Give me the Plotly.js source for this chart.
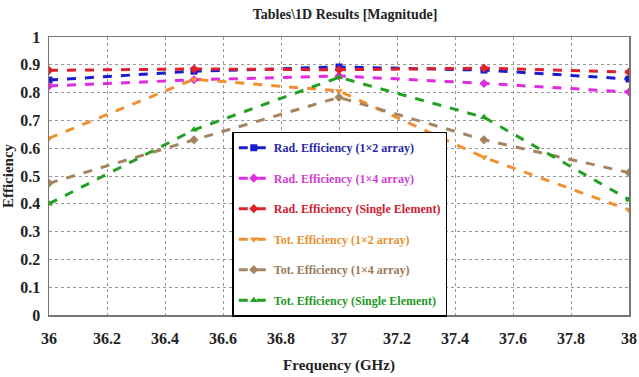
<!DOCTYPE html>
<html><head><meta charset="utf-8">
<script src="https://cdn.plot.ly/plotly-3.0.1.min.js"></script>
<style>body{margin:0;padding:0;background:#fff}#chart{width:639px;height:377px}</style>
</head><body><div id="chart"></div>
<script>
const freq = [36, 36.5, 37, 37.5, 38];
const radEff1x2 = [0.845, 0.877, 0.892, 0.881, 0.849];
const radEff1x4 = [0.824, 0.846, 0.860, 0.833, 0.802];
const radEffSingle = [0.880, 0.885, 0.882, 0.888, 0.874];
const totEff1x2 = [0.636, 0.848, 0.806, 0.567, 0.378];
const totEff1x4 = [0.474, 0.630, 0.783, 0.630, 0.512];
const totEffSingle = [0.400, 0.666, 0.855, 0.711, 0.415];
const xTicks = [36, 36.2, 36.4, 36.6, 36.8, 37, 37.2, 37.4, 37.6, 37.8, 38];
const xTickText = ['36','36.2','36.4','36.6','36.8','37','37.2','37.4','37.6','37.8','38'];
const yTicks = [0, 0.1, 0.2, 0.3, 0.4, 0.5, 0.6, 0.7, 0.8, 0.9, 1];
const yTickText = ['0','0.1','0.2','0.3','0.4','0.5','0.6','0.7','0.8','0.9','1'];

const names = ['Rad. Efficiency (1×2 array)','Rad. Efficiency (1×4 array)','Rad. Efficiency (Single Element)','Tot. Efficiency (1×2 array)','Tot. Efficiency (1×4 array)','Tot. Efficiency (Single Element)'];
const series = [radEff1x2, radEff1x4, radEffSingle, totEff1x2, totEff1x4, totEffSingle];
const lineColors = ['#1c1ccf','#e02ce0','#e0202c','#f29030','#a5845f','#22a022'];
const textColors = ['#2626a8','#d040d0','#d02030','#e8902e','#9a7a58','#1f9a1f'];
const symbols = ['square','diamond','diamond','triangle-down','diamond','triangle-up'];

const traces = series.map((s,i)=>({
  x: freq, y: s, type:'scatter', mode:'lines+markers',
  name: '<b><span style="color:'+textColors[i]+'">'+names[i]+'</span></b>',
  legendgroup: 'g'+i,
  line:{color:lineColors[i], width:3, dash:'dash'},
  marker:{color:lineColors[i], symbol:symbols[i], size:7}
}));

const fam = 'Liberation Serif';
const layout = {
  width:639, height:377,
  margin:{l:49, r:10, t:37, b:62},
  paper_bgcolor:'#fff', plot_bgcolor:'#fff',
  font: {family:fam, color:'#222'},
  title:{text:'<b>Tables\\1D Results [Magnitude]</b>', font:{family:fam, size:14, color:'#222'}, x:0.54, xanchor:'center', y:0.975, yanchor:'top'},
  xaxis:{
    range:[36,38], tickmode:'array', tickvals:xTicks, ticktext:xTickText.map(t=>'<b>'+t+'</b>'),
    showline:true, linecolor:'#777', linewidth:1.5, mirror:true,
    showgrid:true, gridcolor:'#999', griddash:'dot', gridwidth:1,
    zeroline:false, ticks:'', ticklabelstandoff:8, ticklabeloverflow:'allow',
    tickfont:{family:fam, size:16, color:'#222'},
    title:{text:'<b>Frequency (GHz)</b>', font:{family:fam, size:15, color:'#222'}, standoff:14}
  },
  yaxis:{
    range:[0,1], tickmode:'array', tickvals:yTicks, ticktext:yTickText.map(t=>'<b>'+t+'</b>'),
    showline:true, linecolor:'#777', linewidth:1.5, mirror:true,
    showgrid:true, gridcolor:'#999', griddash:'dot', gridwidth:1,
    zeroline:false, ticks:'', ticklabelstandoff:4,
    tickfont:{family:fam, size:16, color:'#222'},
    title:{text:'<b>Efficiency</b>', font:{family:fam, size:15, color:'#222'}, standoff:8}
  },
  legend:{
    x:0.316, y:-0.006, xanchor:'left', yanchor:'bottom',
    bgcolor:'#fff', bordercolor:'#000', borderwidth:1.5,
    font:{family:fam, size:12},
    tracegroupgap:11.5, traceorder:'grouped', itemwidth:30
  }
};
Plotly.newPlot('chart', traces, layout, {displayModeBar:false, staticPlot:true});
</script></body></html>
